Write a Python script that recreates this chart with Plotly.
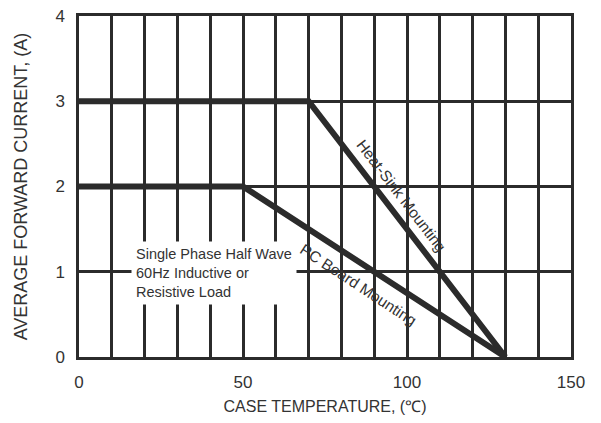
import plotly.graph_objects as go

# Data
heat_sink_x = [0, 70, 130]
heat_sink_y = [3, 3, 0]
pc_board_x = [0, 50, 130]
pc_board_y = [2, 2, 0]
x_ticks = [0, 50, 100, 150]
y_ticks = [0, 1, 2, 3, 4]

line_col = "#2b2b2b"
txt_col = "#333333"
font_fam = "Liberation Sans, Arial, sans-serif"

fig = go.Figure()
fig.add_trace(go.Scatter(x=heat_sink_x, y=heat_sink_y, mode="lines",
                         line=dict(color=line_col, width=6), showlegend=False))
fig.add_trace(go.Scatter(x=pc_board_x, y=pc_board_y, mode="lines",
                         line=dict(color=line_col, width=6), showlegend=False))

# page body has an 8px margin, so the figure is offset by 8px
fig.update_layout(
    width=593, height=415,
    margin=dict(l=71, r=30, t=8, b=66),
    plot_bgcolor="white", paper_bgcolor="white",
    font=dict(family=font_fam, color=txt_col, size=17),
    xaxis=dict(range=[0, 150], tickvals=list(range(0, 151, 10)),
               ticktext=[str(v) if v in x_ticks else "" for v in range(0, 151, 10)],
               showgrid=True, gridcolor=line_col, gridwidth=2.5,
               showline=True, linecolor=line_col, linewidth=2.5, mirror=True,
               ticks="", zeroline=False, ticklabelstandoff=8, automargin=False,
               ticklabeloverflow="allow", tickfont=dict(size=17),
               title=dict(text="CASE TEMPERATURE, (\u2103)", font=dict(size=16), standoff=10)),
    yaxis=dict(range=[0, 4], tickvals=y_ticks,
               showgrid=True, gridcolor=line_col, gridwidth=2.5,
               showline=True, linecolor=line_col, linewidth=2.5, mirror=True,
               ticks="", zeroline=False, ticklabelstandoff=8, automargin=False,
               ticklabeloverflow="allow", tickfont=dict(size=17),
               title=dict(text="AVERAGE FORWARD CURRENT, (A)", font=dict(size=18), standoff=24)),
)

fig.add_annotation(x=16, y=0.99, xref="x", yref="y", xanchor="left", yanchor="middle",
                   text="Single Phase Half Wave<br>60Hz Inductive or<br>Resistive Load",
                   align="left", showarrow=False, bgcolor="white", borderpad=4,
                   font=dict(size=14.5, color=txt_col))
fig.add_annotation(x=98.2, y=1.89, xref="x", yref="y", text="Heat-Sink Mounting",
                   textangle=52.6, showarrow=False, font=dict(size=15.5, color=txt_col))
fig.add_annotation(x=85.1, y=0.855, xref="x", yref="y", text="PC Board Mounting",
                   textangle=33.2, showarrow=False, font=dict(size=15.5, color=txt_col))

fig.write_html("out.html")
